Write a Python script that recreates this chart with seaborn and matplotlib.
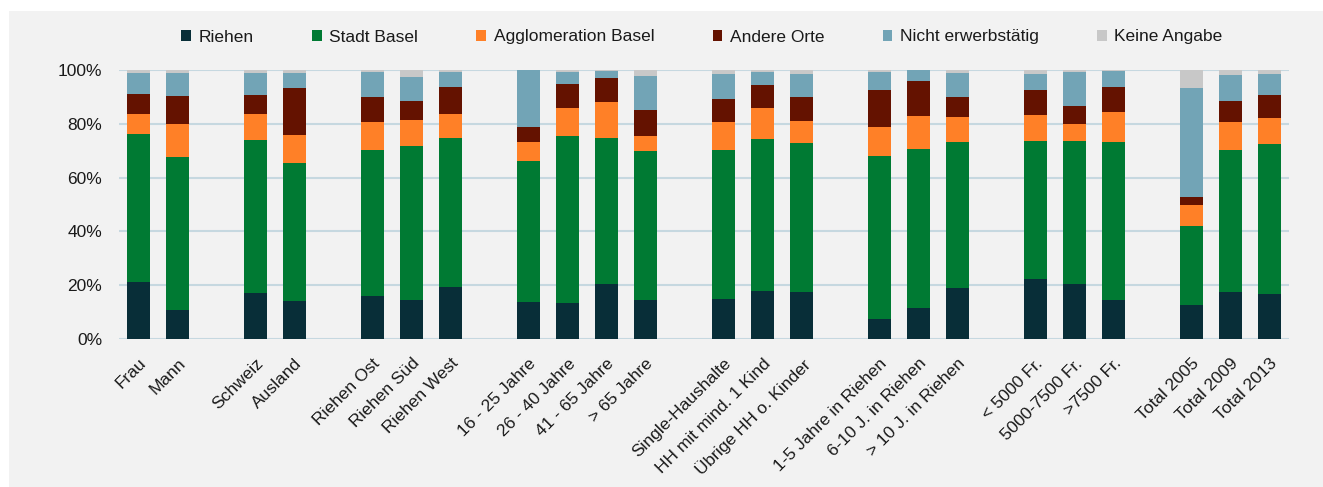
import matplotlib
matplotlib.use('Agg')
import matplotlib.pyplot as plt
from matplotlib.patches import Patch, Rectangle
from matplotlib.ticker import PercentFormatter
import seaborn as sns
import pandas as pd

# Bar groups (an empty slot is left between groups)
groups = [
    ['Frau', 'Mann'],
    ['Schweiz', 'Ausland'],
    ['Riehen Ost', 'Riehen Süd', 'Riehen West'],
    ['16 - 25 Jahre', '26 - 40 Jahre', '41 - 65 Jahre', '> 65 Jahre'],
    ['Single-Haushalte', 'HH mit mind. 1 Kind', 'Übrige HH o. Kinder'],
    ['1-5 Jahre in Riehen', '6-10 J. in Riehen', '> 10 J. in Riehen'],
    ['< 5000 Fr.', '5000-7500 Fr.', '>7500 Fr.'],
    ['Total 2005', 'Total 2009', 'Total 2013'],
]

series_names = ['Riehen', 'Stadt Basel', 'Agglomeration Basel', 'Andere Orte',
                'Nicht erwerbstätig', 'Keine Angabe']

# shares in percent, one value per bar (same order as groups)
riehen = [21.3, 10.8, 17.2, 14.3, 16.1, 14.5, 19.5, 13.9, 13.2, 20.3, 14.5,
          15.0, 18.0, 17.6, 7.6, 11.7, 19.1, 22.3, 20.6, 14.5, 12.8, 17.5, 16.9]
stadt_basel = [54.8, 56.9, 56.7, 51.3, 54.2, 57.3, 55.4, 52.4, 62.4, 54.6, 55.5,
               55.3, 56.4, 55.2, 60.3, 59.1, 54.3, 51.4, 53.1, 58.8, 29.3, 52.8, 55.6]
agglomeration = [7.5, 12.1, 9.7, 10.2, 10.3, 9.6, 8.7, 7.0, 10.4, 13.3, 5.6,
                 10.2, 11.3, 8.1, 11.0, 12.0, 9.2, 9.7, 6.3, 11.2, 7.9, 10.3, 9.6]
andere_orte = [7.6, 10.6, 7.2, 17.5, 9.2, 7.2, 10.1, 5.6, 8.7, 8.8, 9.6,
               8.8, 8.8, 9.2, 13.5, 13.2, 7.5, 9.0, 6.6, 9.0, 2.9, 7.7, 8.7]
nicht_erwerbstaetig = [7.8, 8.4, 8.1, 5.5, 9.6, 8.8, 5.4, 21.1, 4.4, 2.6, 12.4,
                       9.3, 4.8, 8.4, 6.7, 4.0, 8.7, 6.1, 12.5, 6.0, 40.4, 9.7, 7.8]
keine_angabe = [1.0, 1.2, 1.1, 1.2, 0.6, 2.6, 0.9, 0.0, 0.9, 0.4, 2.4,
                1.4, 0.7, 1.5, 0.9, 0.0, 1.2, 1.5, 0.9, 0.5, 6.7, 2.0, 1.4]

colors = ['#082E38', '#007A33', '#FF8027', '#641200', '#72A4B6', '#C8C8C8']
BG = '#F2F2F2'
GRID = '#C6D8E0'
TEXT = '#1A1A1A'

# positions on the x axis: one slot per bar plus one empty slot between groups
labels, positions = [], []
slot = 0
for g in groups:
    for name in g:
        labels.append(name)
        positions.append(slot)
        slot += 1
    slot += 1

values = [riehen, stadt_basel, agglomeration, andere_orte,
          nicht_erwerbstaetig, keine_angabe]
df = pd.DataFrame({'pos': positions})
running = [0.0] * len(positions)
for name, vals in zip(series_names, values):
    running = [r + v / 100 for r, v in zip(running, vals)]
    df[name] = running

sns.set_style('white')
plt.rcParams['font.family'] = ['Liberation Sans', 'DejaVu Sans']

fig = plt.figure(figsize=(13.23, 4.87), dpi=100)
fig.patch.set_facecolor('white')
fig.patches.append(Rectangle((9 / 1323, 0), 1, 1 - 11 / 487, transform=fig.transFigure,
                             facecolor=BG, edgecolor='none', zorder=-10))
ax = fig.add_axes([119 / 1323, 1 - 339 / 487, 1170 / 1323, 269 / 487])
ax.set_facecolor(BG)

# stacked bars: draw cumulative totals from the top series down
for name, c in reversed(list(zip(series_names, colors))):
    sns.barplot(data=df, x='pos', y=name, native_scale=True, orient='x',
                width=0.59, color=c, saturation=1, linewidth=0, ax=ax)

ax.set_xlim(-0.5, slot - 1.5)
ax.set_ylim(0, 1)
ax.set_yticks([0, 0.2, 0.4, 0.6, 0.8, 1.0])
ax.yaxis.set_major_formatter(PercentFormatter(1.0, decimals=0))
ax.set_xticks(positions)
ax.set_xticklabels(labels, rotation=45, ha='right', va='top', rotation_mode='anchor')
ax.set_xlabel('')
ax.set_ylabel('')

ax.set_axisbelow(True)
ax.yaxis.grid(True, color=GRID, linewidth=1.5)
ax.xaxis.grid(False)
for s in ax.spines.values():
    s.set_visible(False)
ax.tick_params(axis='x', length=0, pad=12, labelsize=12.5, labelcolor=TEXT)
ax.tick_params(axis='y', length=0, pad=12, labelsize=12.5, labelcolor=TEXT)

handles = [Patch(facecolor=c, edgecolor='none') for c in colors]
fig.legend(handles, series_names, loc='center', bbox_to_anchor=(0.5306, 1 - 37 / 487),
           ncol=6, frameon=False, fontsize=12.5, handlelength=0.55, handleheight=0.55,
           handletextpad=0.45, columnspacing=3.35, labelcolor=TEXT)

fig.savefig('out.png', dpi=100, facecolor=fig.get_facecolor())
